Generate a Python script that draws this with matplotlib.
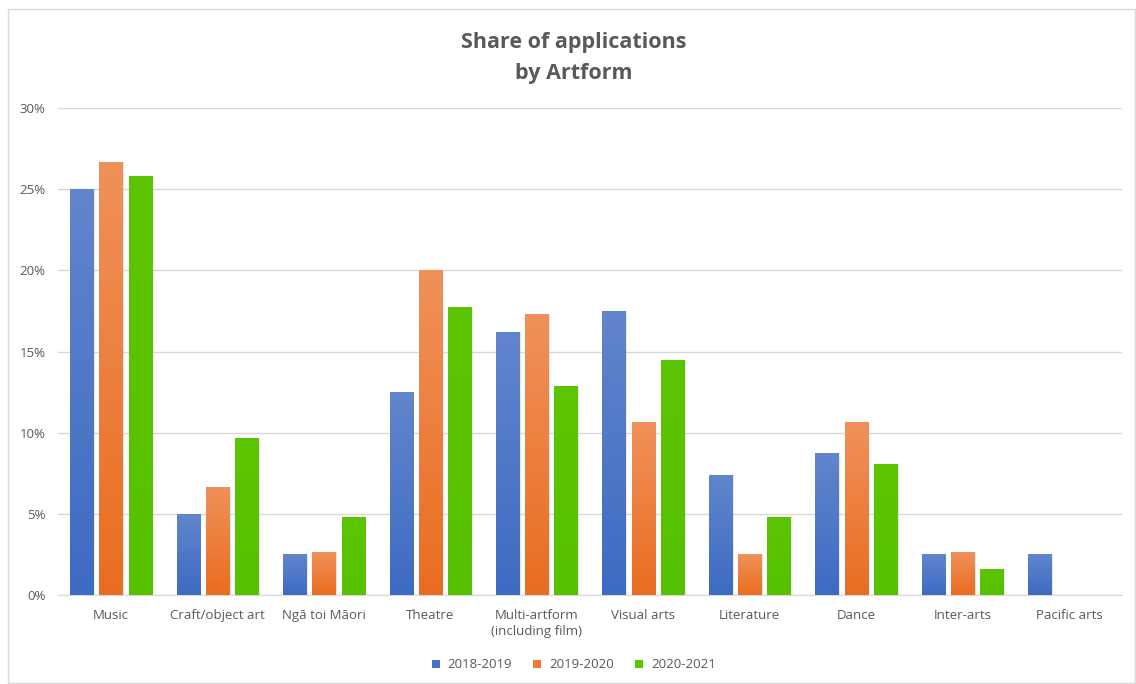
import numpy as np
import matplotlib.pyplot as plt
from matplotlib.patches import Rectangle
from matplotlib.colors import LinearSegmentedColormap

plt.rcParams['font.family'] = ['Open Sans', 'DejaVu Sans']

categories = ["Music", "Craft/object art", "Ngā toi Māori", "Theatre",
              "Multi-artform\n(including film)", "Visual arts", "Literature",
              "Dance", "Inter-arts", "Pacific arts"]
series = ["2018-2019", "2019-2020", "2020-2021"]
v_1819 = [25.0, 5.0, 2.5, 12.5, 16.2, 17.5, 7.4, 8.75, 2.5, 2.5]
v_1920 = [26.7, 6.67, 2.65, 20.0, 17.3, 10.67, 2.5, 10.67, 2.65, 0]
v_2021 = [25.8, 9.68, 4.84, 17.75, 12.9, 14.5, 4.84, 8.06, 1.6, 0]
values = [v_1819, v_1920, v_2021]

# (top colour, bottom colour) for the Excel-like gradient
grads = [("#6285cc", "#3d6bc2"), ("#f0915a", "#e96d20"), ("#5cc502", "#56c100")]
legend_cols = ["#4472c4", "#ed7d31", "#5bc500"]

fig = plt.figure(figsize=(11.36, 6.84), dpi=100)
ax = fig.add_axes([0.051, 0.130, 0.937, 0.712])

x = np.arange(len(categories))
width = 0.22
step = 0.275
for i, vals in enumerate(values):
    cmap = LinearSegmentedColormap.from_list("g%d" % i, [grads[i][1], grads[i][0]])
    grad = np.linspace(0, 1, 256).reshape(-1, 1)
    for xi, v in zip(x, vals):
        if v <= 0:
            continue
        left = xi + (i - 1) * step - width / 2
        # soft shadow
        ax.add_patch(Rectangle((left + 0.012, 0), width, v, facecolor="#000000",
                               alpha=0.08, edgecolor="none", zorder=2))
        bar = Rectangle((left, 0), width, v, facecolor=legend_cols[i],
                        edgecolor="none", zorder=3)
        ax.add_patch(bar)
        im = ax.imshow(grad, cmap=cmap, origin="lower", aspect="auto",
                       extent=(left, left + width, 0, v), zorder=3.1)
        im.set_clip_path(bar)

ax.set_xlim(-0.5, len(categories) - 0.5)
ax.set_ylim(0, 30)
ax.set_yticks(np.arange(0, 31, 5))
ax.set_yticklabels(["%d%%" % t for t in range(0, 31, 5)])
ax.set_xticks(x)
ax.set_xticklabels(categories, linespacing=1.35)
ax.grid(axis="y", color="#d9d9d9", linewidth=1)
ax.set_axisbelow(True)
for s in ["top", "right", "left"]:
    ax.spines[s].set_visible(False)
ax.spines["bottom"].set_color("#d9d9d9")
ax.tick_params(axis="both", length=0, colors="#595959", labelsize=9.5)
ax.tick_params(axis="x", pad=10)
ax.tick_params(axis="y", pad=9)

fig.text(0.505, 0.915, "Share of applications\nby Artform", ha="center", va="center",
         fontsize=15.5, fontweight="bold", color="#595959", linespacing=1.6)

handles = [Rectangle((0, 0), 1, 1, facecolor=c) for c in legend_cols]
fig.legend(handles, series, loc="center", bbox_to_anchor=(0.505, 0.028), ncol=3,
           frameon=False, fontsize=9.5, handlelength=0.6, handleheight=0.6,
           columnspacing=1.6, handletextpad=0.6, labelcolor="#595959")

fig.patches.append(Rectangle((8 / 1136, 1 / 684), 1127 / 1136, 674 / 684,
                             transform=fig.transFigure, fill=False,
                             edgecolor="#d9d9d9", linewidth=1))

fig.savefig("out.png", dpi=100)
